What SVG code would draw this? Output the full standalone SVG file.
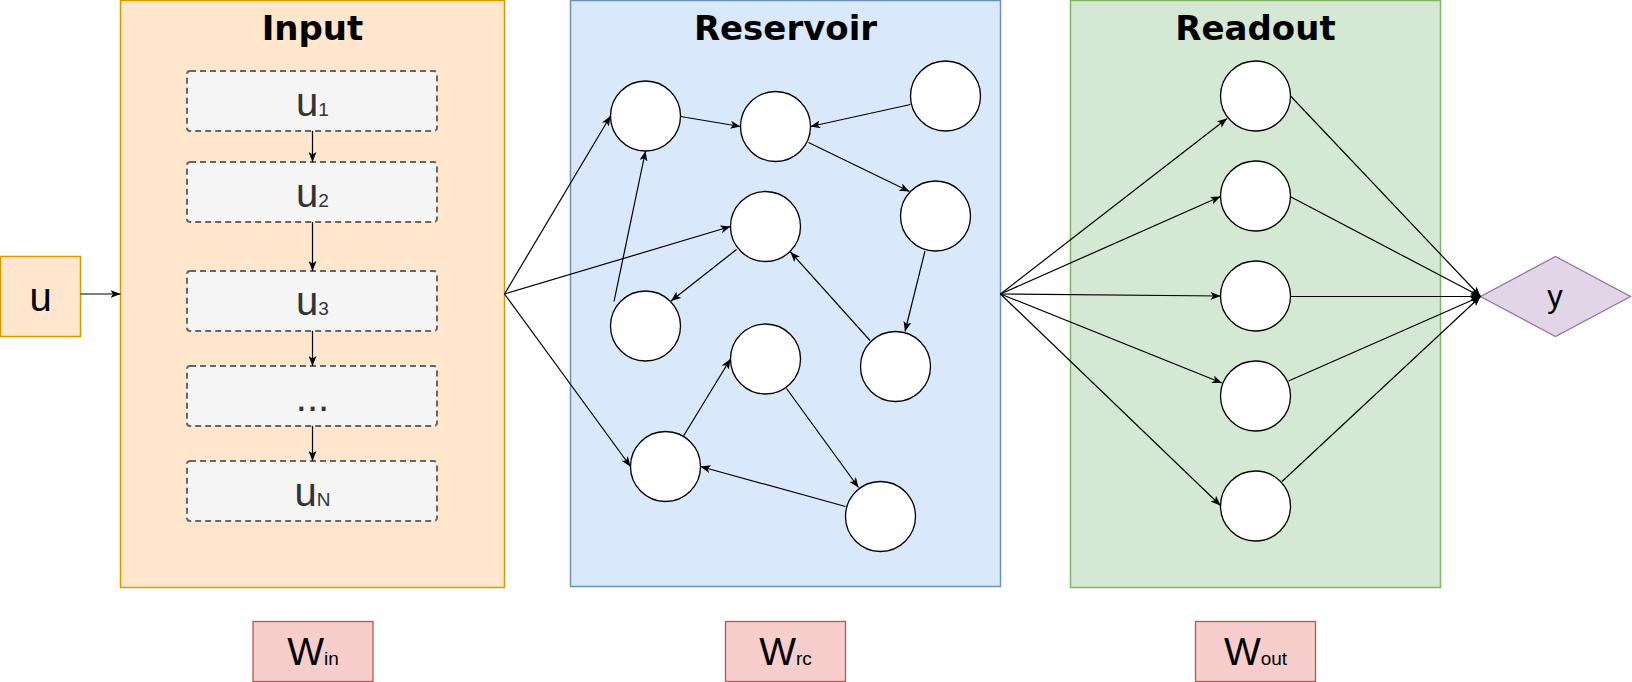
<svg xmlns="http://www.w3.org/2000/svg" width="1632" height="682" viewBox="0 0 1632 682">
<defs>
<marker id="arr" viewBox="0 0 10 8" refX="10" refY="4" markerWidth="10" markerHeight="8" markerUnits="userSpaceOnUse" orient="auto">
<path d="M0,0 L10,4 L0,8 L2.5,4 Z" fill="#000"/>
</marker>
<style>
.title{font-family:"DejaVu Sans",Verdana,sans-serif;font-weight:bold;font-size:34px;fill:#000;text-anchor:middle}
.lbl{font-family:"Liberation Sans",Arial,sans-serif;font-size:40px;fill:#333;text-anchor:middle}
.sub{font-size:19px}
.wl{font-family:"Liberation Sans",Arial,sans-serif;font-size:39px;fill:#000;text-anchor:middle}
.ubox{fill:#f5f5f5;stroke:#666;stroke-width:2;stroke-dasharray:6 4}
.neuron{fill:#fff;stroke:#000;stroke-width:1.3}
.wbox{fill:#f8cecc;stroke:#b85450;stroke-width:1.3}
.edge{stroke:#000;stroke-width:1.2;fill:none;marker-end:url(#arr)}
</style>
</defs>

<g id="input-layer">
<rect x="120.5" y="0.5" width="384" height="587" fill="#ffe6cc" stroke="#d79b00" stroke-width="1.5"/>
<text class="title" x="312.5" y="40">Input</text>
</g>
<g id="reservoir-layer">
<rect x="570.5" y="0.5" width="430" height="586" fill="#dae8fc" stroke="#6c8ebf" stroke-width="1.5"/>
<text class="title" x="785.5" y="40">Reservoir</text>
</g>
<g id="readout-layer">
<rect x="1070.5" y="0.5" width="370" height="587" fill="#d5e8d4" stroke="#82b366" stroke-width="1.5"/>
<text class="title" x="1255.5" y="40">Readout</text>
</g>

<g id="u">
<rect x="0.5" y="256.5" width="80" height="80" fill="#ffe6cc" stroke="#d79b00" stroke-width="1.5"/>
<text class="lbl" x="40.5" y="311" style="fill:#000">u</text>
</g>
<g id="u1"><rect class="ubox" x="187" y="71" width="250" height="60" rx="3"/><text class="lbl" x="312.5" y="116">u<tspan class="sub">1</tspan></text></g>
<g id="u2"><rect class="ubox" x="187" y="162" width="250" height="60" rx="3"/><text class="lbl" x="312.5" y="207">u<tspan class="sub">2</tspan></text></g>
<g id="u3"><rect class="ubox" x="187" y="271" width="250" height="60" rx="3"/><text class="lbl" x="312.5" y="315">u<tspan class="sub">3</tspan></text></g>
<g id="udots"><rect class="ubox" x="187" y="366" width="250" height="60" rx="3"/><text class="lbl" x="312.5" y="411">...</text></g>
<g id="uN"><rect class="ubox" x="187" y="461" width="250" height="60" rx="3"/><text class="lbl" x="312.5" y="506">u<tspan class="sub">N</tspan></text></g>

<g id="r1"><circle class="neuron" cx="645.5" cy="116" r="35"/></g>
<g id="r2"><circle class="neuron" cx="775.5" cy="126.5" r="35"/></g>
<g id="r3"><circle class="neuron" cx="945.5" cy="96" r="35"/></g>
<g id="r4"><circle class="neuron" cx="935.5" cy="216" r="35"/></g>
<g id="r5"><circle class="neuron" cx="765.5" cy="226.5" r="35"/></g>
<g id="r6"><circle class="neuron" cx="645.5" cy="326" r="35"/></g>
<g id="r7"><circle class="neuron" cx="765.5" cy="359" r="35"/></g>
<g id="r8"><circle class="neuron" cx="895.5" cy="366.5" r="35"/></g>
<g id="r9"><circle class="neuron" cx="665.5" cy="466.5" r="35"/></g>
<g id="r10"><circle class="neuron" cx="880.5" cy="516.5" r="35"/></g>

<g id="o1"><circle class="neuron" cx="1255.5" cy="96" r="35"/></g>
<g id="o2"><circle class="neuron" cx="1255.5" cy="196" r="35"/></g>
<g id="o3"><circle class="neuron" cx="1255.5" cy="296" r="35"/></g>
<g id="o4"><circle class="neuron" cx="1255.5" cy="396" r="35"/></g>
<g id="o5"><circle class="neuron" cx="1255.5" cy="506" r="35"/></g>

<g id="y">
<polygon points="1480.5,296.5 1555.5,256.5 1630.5,296.5 1555.5,336.5" fill="#e1d5e7" stroke="#9673a6" stroke-width="1.3"/>
<text x="1555" y="307" style="font-family:'Liberation Sans',Arial,sans-serif;font-size:31px;fill:#000;text-anchor:middle">y</text>
</g>

<g id="Win"><rect class="wbox" x="253" y="621.5" width="120" height="60"/><text class="wl" x="313" y="665">W<tspan class="sub">in</tspan></text></g>
<g id="Wrc"><rect class="wbox" x="725.5" y="621.5" width="120" height="60"/><text class="wl" x="785.5" y="665">W<tspan class="sub">rc</tspan></text></g>
<g id="Wout"><rect class="wbox" x="1195.5" y="621.5" width="120" height="60"/><text class="wl" x="1255.5" y="665">W<tspan class="sub">out</tspan></text></g>

<g id="connectors">
<line class="edge" x1="80.5" y1="294" x2="120.5" y2="294"/>
<line class="edge" x1="312.5" y1="131" x2="312.5" y2="162"/>
<line class="edge" x1="312.5" y1="222" x2="312.5" y2="271"/>
<line class="edge" x1="312.5" y1="331" x2="312.5" y2="366"/>
<line class="edge" x1="312.5" y1="426" x2="312.5" y2="461"/>

<line class="edge" x1="504.5" y1="294" x2="610.5" y2="116"/>
<line class="edge" x1="504.5" y1="294" x2="730.5" y2="226.5"/>
<line class="edge" x1="504.5" y1="294" x2="630.5" y2="466.5"/>
<line class="edge" x1="680.5" y1="116.5" x2="740.5" y2="126.5"/>
<line class="edge" x1="910.5" y1="104.5" x2="810.5" y2="126.5"/>
<line class="edge" x1="808.5" y1="142.5" x2="909.5" y2="191.5"/>
<line class="edge" x1="925" y1="251" x2="905" y2="331.5"/>
<line class="edge" x1="870" y1="340.5" x2="790.5" y2="252"/>
<line class="edge" x1="736.5" y1="249.5" x2="671" y2="301"/>
<line class="edge" x1="614" y1="301.5" x2="645.5" y2="151"/>
<line class="edge" x1="683.5" y1="436" x2="730.5" y2="359"/>
<line class="edge" x1="786.5" y1="388.5" x2="858.5" y2="487.5"/>
<line class="edge" x1="845.5" y1="506.5" x2="700.5" y2="466.5"/>

<line class="edge" x1="1000.5" y1="294" x2="1227" y2="118.5"/>
<line class="edge" x1="1000.5" y1="294" x2="1220.5" y2="196.5"/>
<line class="edge" x1="1000.5" y1="294" x2="1220.5" y2="296"/>
<line class="edge" x1="1000.5" y1="294" x2="1222" y2="383"/>
<line class="edge" x1="1000.5" y1="294" x2="1220.5" y2="505.5"/>

<line class="edge" x1="1291" y1="96.5" x2="1480.5" y2="296.5"/>
<line class="edge" x1="1291" y1="197" x2="1480.5" y2="296.5"/>
<line class="edge" x1="1290.5" y1="296.5" x2="1480.5" y2="296.5"/>
<line class="edge" x1="1288.5" y1="381" x2="1480.5" y2="296.5"/>
<line class="edge" x1="1282" y1="481.5" x2="1480.5" y2="296.5"/>
</g>
</svg>
